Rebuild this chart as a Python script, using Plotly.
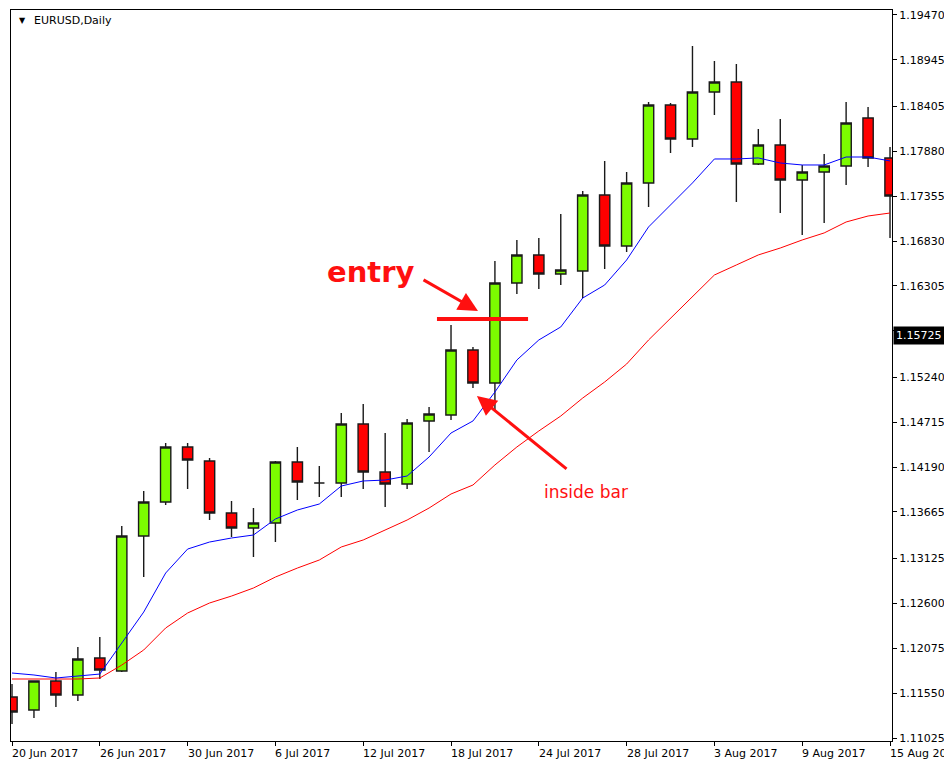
import plotly.graph_objects as go
from datetime import date

# ---------------- data ----------------
dates = ["2017-06-20", "2017-06-21", "2017-06-22", "2017-06-23", "2017-06-26",
         "2017-06-27", "2017-06-28", "2017-06-29", "2017-06-30", "2017-07-03",
         "2017-07-04", "2017-07-05", "2017-07-06", "2017-07-07", "2017-07-10",
         "2017-07-11", "2017-07-12", "2017-07-13", "2017-07-14", "2017-07-17",
         "2017-07-18", "2017-07-19", "2017-07-20", "2017-07-21", "2017-07-24",
         "2017-07-25", "2017-07-26", "2017-07-27", "2017-07-28", "2017-07-31",
         "2017-08-01", "2017-08-02", "2017-08-03", "2017-08-04", "2017-08-07",
         "2017-08-08", "2017-08-09", "2017-08-10", "2017-08-11", "2017-08-14",
         "2017-08-15"]

opens = [1.11504, 1.11352, 1.11690, 1.11527, 1.11959, 1.11807, 1.13384, 1.13781,
         1.14424, 1.14260, 1.13653, 1.13478, 1.13536, 1.14249, 1.14003, 1.14003,
         1.14692, 1.14132, 1.13992, 1.14728, 1.14798, 1.15557, 1.15171, 1.16340,
         1.16667, 1.16445, 1.16480, 1.17367, 1.16772, 1.17508, 1.18419, 1.18022,
         1.18571, 1.18687, 1.17730, 1.17952, 1.17543, 1.17636, 1.17706, 1.18267,
         1.17800]
highs = [1.11655, 1.11695, 1.11796, 1.12088, 1.12204, 1.13501, 1.13910, 1.14471,
         1.14471, 1.14295, 1.13793, 1.13711, 1.14260, 1.14424, 1.14202, 1.14821,
         1.14926, 1.14587, 1.14751, 1.14891, 1.15849, 1.15592, 1.16597, 1.16842,
         1.16865, 1.17146, 1.17414, 1.17765, 1.17636, 1.18454, 1.18442, 1.19108,
         1.18933, 1.18898, 1.18138, 1.18255, 1.17718, 1.17846, 1.18454, 1.18395,
         1.17928]
lows = [1.11188, 1.11258, 1.11387, 1.11457, 1.11714, 1.11795, 1.12905, 1.13746,
        1.13933, 1.13571, 1.13373, 1.13139, 1.13314, 1.13805, 1.13840, 1.13840,
        1.13933, 1.13723, 1.13933, 1.14365, 1.14739, 1.15113, 1.14856, 1.16211,
        1.16269, 1.16316, 1.16164, 1.16503, 1.16702, 1.17227, 1.17858, 1.17928,
        1.18302, 1.17286, 1.17718, 1.17157, 1.16900, 1.17040, 1.17484, 1.17694,
        1.16865]
closes = [1.11328, 1.11690, 1.11527, 1.11947, 1.11819, 1.13384, 1.13781, 1.14424,
          1.14272, 1.13653, 1.13478, 1.13536, 1.14249, 1.14015, 1.14003, 1.14692,
          1.14132, 1.13992, 1.14704, 1.14809, 1.15557, 1.15171, 1.16340, 1.16667,
          1.16445, 1.16491, 1.17367, 1.16772, 1.17508, 1.18419, 1.18022, 1.18571,
          1.18687, 1.17730, 1.17952, 1.17543, 1.17636, 1.17706, 1.18209, 1.17800,
          1.17356]

ma_fast = [1.11784, 1.11761, 1.11726, 1.11749, 1.11772, 1.12134, 1.12496, 1.12952,
           1.13232, 1.13314, 1.13361, 1.13396, 1.13583, 1.13688, 1.13758, 1.13968,
           1.14027, 1.14038, 1.14085, 1.14307, 1.14587, 1.14728, 1.15066, 1.15440,
           1.15674, 1.15826, 1.16164, 1.16316, 1.16608, 1.16994, 1.17251, 1.17508,
           1.17788, 1.17788, 1.17800, 1.17741, 1.17718, 1.17718, 1.17811, 1.17811,
           1.17765]
ma_slow = [1.11714, 1.11714, 1.11714, 1.11714, 1.11726, 1.11877, 1.12053, 1.12310,
           1.12485, 1.12602, 1.12683, 1.12777, 1.12905, 1.13010, 1.13104, 1.13256,
           1.13338, 1.13454, 1.13571, 1.13711, 1.13875, 1.13980, 1.14214, 1.14424,
           1.14611, 1.14786, 1.14996, 1.15183, 1.15393, 1.15674, 1.15931, 1.16176,
           1.16433, 1.16550, 1.16667, 1.16748, 1.16842, 1.16924, 1.17052, 1.17122,
           1.17157]

price_ticks = [1.19470, 1.18945, 1.18405, 1.17880, 1.17355, 1.16830, 1.16305,
               1.15780, 1.15240, 1.14715, 1.14190, 1.13665, 1.13125, 1.12600,
               1.12075, 1.11550, 1.11025]
date_label_step = 4
current_price = 1.15725
entry_level = 1.15919
title_text = "EURUSD,Daily"

# ---------------- figure ----------------
x = list(range(len(dates)))


def fmt_date(s):
    d = date.fromisoformat(s)
    return f"{d.day} {d.strftime('%b %Y')}"


fig = go.Figure()
fig.add_trace(go.Scatter(x=x, y=ma_slow, mode="lines",
                         line=dict(color="#ff0000", width=1), hoverinfo="skip"))
fig.add_trace(go.Scatter(x=x, y=ma_fast, mode="lines",
                         line=dict(color="#0000ff", width=1), hoverinfo="skip"))
fig.add_trace(go.Candlestick(
    x=x, open=opens, high=highs, low=lows, close=closes,
    increasing=dict(fillcolor="#7CFC00", line=dict(color="#1a1a1a", width=1.4)),
    decreasing=dict(fillcolor="#FF0000", line=dict(color="#1a1a1a", width=1.4)),
    whiskerwidth=0, hoverinfo="skip"))

# the page body has an 8px margin, so the figure is 944x755 and shifted margins
fig.update_layout(
    width=944, height=755,
    margin=dict(l=3, r=60, t=2, b=22),
    paper_bgcolor="white", plot_bgcolor="white",
    showlegend=False, boxgap=0.33,
    font=dict(family="DejaVu Sans", size=11, color="black"),
)
fig.update_xaxes(
    range=[-0.046, 40.09], showgrid=False, zeroline=False,
    showline=True, linecolor="black", linewidth=1, mirror=True,
    ticks="outside", ticklen=4, tickcolor="black",
    tickvals=x[::date_label_step], showticklabels=False,
    rangeslider_visible=False,
)
fig.update_yaxes(
    side="right", range=[1.10990, 1.19528], showgrid=False, zeroline=False,
    showline=True, linecolor="black", linewidth=1, mirror=True,
    ticks="outside", ticklen=4, tickcolor="black",
    tickvals=price_ticks, ticktext=[f"{v:.5f}" for v in price_ticks],
    tickfont=dict(family="DejaVu Sans", size=11, color="black"),
)

# date labels (left-aligned at their tick, MT4 style)
for i in x[::date_label_step]:
    fig.add_annotation(x=i, y=0, xref="x", yref="paper", xanchor="left",
                       yanchor="top", yshift=-4, xshift=-2, showarrow=False,
                       text=fmt_date(dates[i]),
                       font=dict(family="DejaVu Sans", size=11, color="black"))

# chart title
fig.add_annotation(x=0.007, y=0.986, xref="paper", yref="paper", xanchor="left",
                   yanchor="middle", showarrow=False, text="▼",
                   font=dict(family="DejaVu Sans", size=8, color="black"))
fig.add_annotation(x=0.024, y=0.985, xref="paper", yref="paper", xanchor="left",
                   yanchor="middle", showarrow=False, text=title_text,
                   font=dict(family="DejaVu Sans", size=11, color="black"))

# current price box
fig.add_annotation(x=1, y=current_price, xref="paper", yref="y", xanchor="left",
                   yanchor="middle", xshift=1, showarrow=False,
                   text=f"{current_price:.5f}", bgcolor="black", borderpad=2,
                   font=dict(family="DejaVu Sans", size=11, color="white"))

# entry level line
fig.add_shape(type="line", x0=19.36, x1=23.51, y0=entry_level, y1=entry_level,
              xref="x", yref="y", line=dict(color="#ff1010", width=4))

# "entry" label and arrow
fig.add_annotation(x=16.31, y=1.16468, xref="x", yref="y", showarrow=False,
                   text="<b>entry</b>",
                   font=dict(family="DejaVu Sans", size=29, color="#ff1010"))
fig.add_annotation(x=21.23, y=1.16012, ax=18.68, ay=1.16386, xref="x", yref="y",
                   axref="x", ayref="y", text="", showarrow=True,
                   arrowhead=2, arrowsize=1.3, arrowwidth=3, arrowcolor="#ff1010")

# "inside bar" label and arrow
fig.add_annotation(x=26.15, y=1.13898, xref="x", yref="y", showarrow=False,
                   text="inside bar",
                   font=dict(family="DejaVu Sans", size=17, color="#ff1010"))
fig.add_annotation(x=21.18, y=1.15020, ax=25.33, ay=1.14155, xref="x", yref="y",
                   axref="x", ayref="y", text="", showarrow=True,
                   arrowhead=2, arrowsize=1.3, arrowwidth=3, arrowcolor="#ff1010")

fig.write_html("out.html")
